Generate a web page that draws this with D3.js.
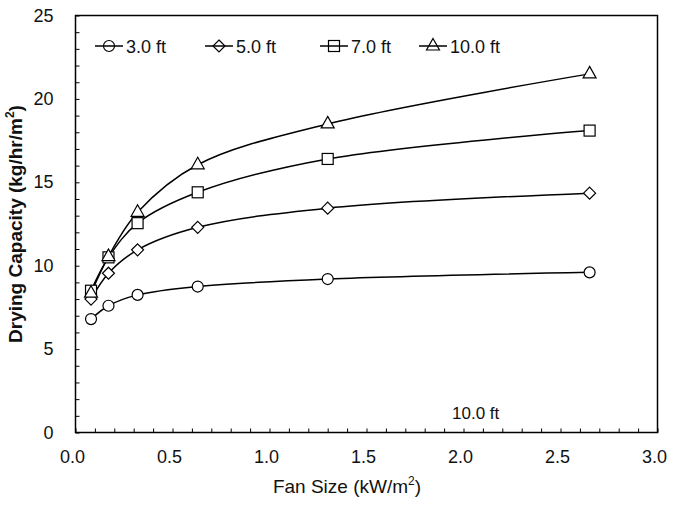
<!DOCTYPE html>
<html>
<head>
<meta charset="utf-8">
<script src="https://cdn.jsdelivr.net/npm/d3@7"></script>
<style>
  html, body { margin: 0; padding: 0; background: #fff; }
  svg { display: block; font-family: Arial, "Liberation Sans", Helvetica, sans-serif; }
</style>
</head>
<body>
<svg id="chart" width="674" height="507"></svg>
<script>
// Fan size (kW/m²) shared by every bin depth
const fanSize = [0.08, 0.17, 0.32, 0.63, 1.30, 2.65];

// Drying capacity (kg/hr/m²) for each bin depth
const depth3 = [6.8, 7.6, 8.25, 8.75, 9.2, 9.6];
const depth5 = [8.0, 9.55, 10.95, 12.3, 13.45, 14.35];
const depth7 = [8.5, 10.5, 12.55, 14.4, 16.4, 18.1];
const depth10 = [8.35, 10.55, 13.2, 16.05, 18.5, 21.5];

const seriesNames = ["3.0 ft", "5.0 ft", "7.0 ft", "10.0 ft"];
const seriesValues = [depth3, depth5, depth7, depth10];
const seriesSymbols = ["circle", "diamond", "square", "triangle"];

const xTicks = [0, 0.5, 1.0, 1.5, 2.0, 2.5, 3.0];
const yTicks = [0, 5, 10, 15, 20, 25];
const noteText = "10.0 ft";

const svg = d3.select("#chart");
const plot = { left: 75.5, right: 657.5, top: 15.5, bottom: 432.5 };

const x = d3.scaleLinear().domain([0, 3]).range([plot.left, plot.right]);
const y = d3.scaleLinear().domain([0, 25]).range([plot.bottom, plot.top]);

// Minor ticks every 0.1 on x and every 1 on y, drawn pointing into the plot
const xMinor = d3.range(0, 30.01, 1).map(d => d / 10);
const yMinor = d3.range(0, 25.01, 1);

const gx = svg.append("g").attr("transform", `translate(0,${plot.bottom})`);
gx.call(d3.axisBottom(x).tickValues(xMinor).tickSize(-4).tickFormat(""))
  .call(g => g.select(".domain").remove())
  .call(g => g.selectAll("line").attr("stroke", "#000").attr("stroke-width", 1));
gx.selectAll(".xlab").data(xTicks).join("text")
  .attr("class", "xlab")
  .attr("x", d => x(d) - 3)
  .attr("y", 30)
  .attr("text-anchor", "middle")
  .attr("font-size", 18)
  .attr("fill", "#111")
  .text(d => d3.format(".1f")(d));

const gy = svg.append("g").attr("transform", `translate(${plot.left},0)`);
gy.call(d3.axisLeft(y).tickValues(yMinor).tickSize(-4).tickFormat(""))
  .call(g => g.select(".domain").remove())
  .call(g => g.selectAll("line").attr("stroke", "#000").attr("stroke-width", 1));
gy.selectAll(".ylab").data(yTicks).join("text")
  .attr("class", "ylab")
  .attr("x", -22)
  .attr("y", d => y(d) + 6)
  .attr("text-anchor", "end")
  .attr("font-size", 18)
  .attr("fill", "#111")
  .text(d => d);

// Plot frame
svg.append("rect")
  .attr("x", plot.left).attr("y", plot.top)
  .attr("width", plot.right - plot.left).attr("height", plot.bottom - plot.top)
  .attr("fill", "none").attr("stroke", "#000").attr("stroke-width", 1.5);

// Axis titles
const xTitle = svg.append("text")
  .attr("x", 347).attr("y", 493)
  .attr("text-anchor", "middle")
  .attr("font-size", 19)
  .attr("fill", "#111");
xTitle.append("tspan").text("Fan Size (kW/m");
xTitle.append("tspan").attr("font-size", 12).attr("dy", -8).text("2");
xTitle.append("tspan").attr("dy", 8).text(")");

const yTitle = svg.append("text")
  .attr("transform", "translate(22,224) rotate(-90)")
  .attr("text-anchor", "middle")
  .attr("font-size", 19)
  .attr("font-weight", "bold")
  .attr("fill", "#111");
yTitle.append("tspan").text("Drying Capacity (kg/hr/m");
yTitle.append("tspan").attr("font-size", 12).attr("dy", -8).text("2");
yTitle.append("tspan").attr("dy", 8).text(")");

// Marker shapes
function drawMarker(g, type, fill) {
  if (type === "circle") {
    g.append("circle").attr("r", 5.5);
  } else if (type === "diamond") {
    g.append("path").attr("d", "M0,-6L6,0L0,6L-6,0Z");
  } else if (type === "square") {
    g.append("rect").attr("x", -5.5).attr("y", -5.5).attr("width", 11).attr("height", 11);
  } else {
    g.append("path").attr("d", "M0,-7.5L6.5,4L-6.5,4Z");
  }
  g.selectAll("*").attr("fill", fill).attr("stroke", "#000").attr("stroke-width", 1.2);
}

const line = d3.line()
  .x((d, i) => x(fanSize[i]))
  .y(d => y(d))
  .curve(d3.curveCatmullRom.alpha(0.5));

seriesValues.forEach((vals, s) => {
  svg.append("path")
    .datum(vals)
    .attr("d", line)
    .attr("fill", "none")
    .attr("stroke", "#000")
    .attr("stroke-width", 1.5);
});
seriesValues.forEach((vals, s) => {
  vals.forEach((v, i) => {
    const g = svg.append("g").attr("transform", `translate(${x(fanSize[i])},${y(v)})`);
    drawMarker(g, seriesSymbols[s], "#fff");
  });
});

// Legend across the top of the plot
const legendX = [95, 205, 320, 419];
seriesNames.forEach((name, s) => {
  const g = svg.append("g").attr("transform", `translate(${legendX[s]},46)`);
  g.append("line").attr("x1", 0).attr("x2", 28).attr("y1", 0).attr("y2", 0)
    .attr("stroke", "#000").attr("stroke-width", 1.5);
  const m = g.append("g").attr("transform", "translate(14,0)");
  drawMarker(m, seriesSymbols[s], "none");
  g.append("text").attr("x", 31).attr("y", 6.5)
    .attr("font-size", 18).attr("fill", "#111").text(name);
});

// Note inside the plot
svg.append("text")
  .attr("x", 452).attr("y", 419)
  .attr("font-size", 17)
  .attr("fill", "#111")
  .text(noteText);
</script>
</body>
</html>
